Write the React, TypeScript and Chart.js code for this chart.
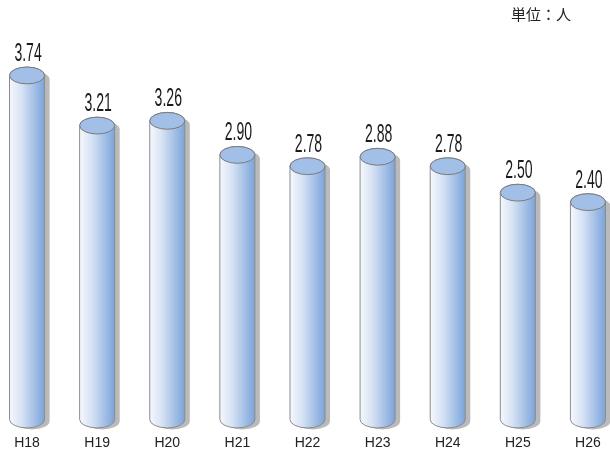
import React, { useEffect, useRef } from "react";
import { Chart, registerables } from "chart.js";

Chart.register(...registerables);

const categories = ["H18", "H19", "H20", "H21", "H22", "H23", "H24", "H25", "H26"];
const values = [3.74, 3.21, 3.26, 2.9, 2.78, 2.88, 2.78, 2.5, 2.4];
const valueLabels = ["3.74", "3.21", "3.26", "2.90", "2.78", "2.88", "2.78", "2.50", "2.40"];
const unitLabel = "単位：人";

function cylinderPath(ctx: CanvasRenderingContext2D, x: number, top: number, base: number, rx: number, ry: number) {
  ctx.beginPath();
  ctx.moveTo(x - rx, top);
  ctx.lineTo(x - rx, base);
  ctx.ellipse(x, base, rx, ry, 0, Math.PI, 0, true);
  ctx.lineTo(x + rx, top);
  ctx.ellipse(x, top, rx, ry, 0, 0, Math.PI, true);
  ctx.closePath();
}

const cylinderPlugin = {
  id: "cylinders",
  afterDatasetsDraw(chart: any) {
    const meta = chart.getDatasetMeta(0);
    const ctx: CanvasRenderingContext2D = chart.ctx;
    const yScale = chart.scales.y;
    const baseY = yScale.getPixelForValue(yScale.min);
    meta.data.forEach((bar: any, i: number) => {
      const { x, y, width } = bar.getProps(["x", "y", "width"], true);
      const base = baseY;
      const rx = width / 2;
      const ry = width * 0.24;
      ctx.save();
      // shadow
      ctx.fillStyle = "#bababa";
      cylinderPath(ctx, x + 5, y + 4, base + 1.5, rx, ry);
      ctx.fill();
      // body
      const g = ctx.createLinearGradient(x - rx, 0, x + rx, 0);
      g.addColorStop(0, "#f6f8fd");
      g.addColorStop(0.35, "#d6e2f4");
      g.addColorStop(1, "#7ba4da");
      ctx.fillStyle = g;
      cylinderPath(ctx, x, y, base, rx, ry);
      ctx.fill();
      ctx.strokeStyle = "#8c8c8c";
      ctx.lineWidth = 1;
      ctx.stroke();
      // top ellipse
      ctx.beginPath();
      ctx.ellipse(x, y, rx, ry, 0, 0, Math.PI * 2);
      ctx.fillStyle = "#a2bfe8";
      ctx.fill();
      ctx.strokeStyle = "#7a7a7a";
      ctx.stroke();
      // value label
      ctx.translate(x + 1, y - ry - 6);
      ctx.scale(0.53, 1);
      ctx.font = '26.5px "Liberation Sans", Arial, sans-serif';
      ctx.fillStyle = "#1a1a1a";
      ctx.textAlign = "center";
      ctx.textBaseline = "alphabetic";
      ctx.fillText(valueLabels[i], 0, 0);
      ctx.restore();
    });
  },
};

export default function App() {
  const ref = useRef<HTMLCanvasElement | null>(null);
  useEffect(() => {
    if (!ref.current) return;
    const chart = new Chart(ref.current, {
      type: "bar",
      data: {
        labels: categories,
        datasets: [
          {
            data: values,
            backgroundColor: "rgba(0,0,0,0)",
            borderWidth: 0,
            barPercentage: 0.5,
            categoryPercentage: 1,
          },
        ],
      },
      options: {
        responsive: false,
        animation: false,
        layout: { padding: { top: 32, bottom: 0, left: 0, right: 0 } },
        plugins: { legend: { display: false }, tooltip: { enabled: false }, title: { display: false } },
        scales: {
          x: {
            grid: { display: false, drawTicks: false },
            border: { display: false },
            afterFit(scale: any) {
              scale.height = 33.5;
              scale.paddingLeft = 0;
              scale.paddingRight = 0;
            },
            ticks: {
              padding: 15,
              color: "#222",
              maxRotation: 0,
              autoSkip: false,
              font: { family: '"Liberation Sans", Arial, sans-serif', size: 14 },
            },
          },
          y: {
            display: false,
            min: 0.1,
            max: 4.2,
          },
        },
      },
      plugins: [cylinderPlugin],
    });
    return () => chart.destroy();
  }, []);
  return (
    <div style={{ position: "fixed", left: 0, top: 0, width: 610, height: 453, overflow: "hidden", background: "#fff" }}>
      <canvas ref={ref} width={631} height={453} style={{ position: "absolute", left: -8, top: 0, width: 631, height: 453 }} />
      <div
        style={{
          position: "absolute",
          left: 511,
          top: 3,
          fontFamily: '"Noto Sans CJK JP", sans-serif',
          fontSize: 15,
          color: "#222",
          whiteSpace: "nowrap",
        }}
      >
        {unitLabel}
      </div>
    </div>
  );
}
